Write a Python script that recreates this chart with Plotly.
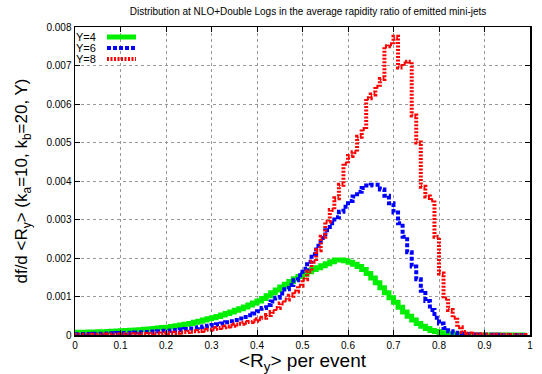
import plotly.graph_objects as go

# bin left edges of <R_y>
BIN_LEFT = [0.00, 0.01, 0.02, 0.03, 0.04, 0.05, 0.06, 0.07, 0.08, 0.09,
            0.10, 0.11, 0.12, 0.13, 0.14, 0.15, 0.16, 0.17, 0.18, 0.19,
            0.20, 0.21, 0.22, 0.23, 0.24, 0.25, 0.26, 0.27, 0.28, 0.29,
            0.30, 0.31, 0.32, 0.33, 0.34, 0.35, 0.36, 0.37, 0.38, 0.39,
            0.40, 0.41, 0.42, 0.43, 0.44, 0.45, 0.46, 0.47, 0.48, 0.49,
            0.50, 0.51, 0.52, 0.53, 0.54, 0.55, 0.56, 0.57, 0.58, 0.59,
            0.60, 0.61, 0.62, 0.63, 0.64, 0.65, 0.66, 0.67, 0.68, 0.69,
            0.70, 0.71, 0.72, 0.73, 0.74, 0.75, 0.76, 0.77, 0.78, 0.79,
            0.80, 0.81, 0.82, 0.83, 0.84, 0.85, 0.86, 0.87, 0.88, 0.89,
            0.90, 0.91, 0.92, 0.93, 0.94, 0.95, 0.96, 0.97, 0.98, 0.99]

Y4 = [0.000070, 0.000072, 0.000074, 0.000077, 0.000080, 0.000083, 0.000087, 0.000091, 0.000096, 0.000102,
      0.000108, 0.000115, 0.000122, 0.000130, 0.000139, 0.000148, 0.000158, 0.000169, 0.000181, 0.000194,
      0.000200, 0.000220, 0.000240, 0.000260, 0.000280, 0.000300, 0.000330, 0.000360, 0.000390, 0.000420,
      0.000450, 0.000480, 0.000520, 0.000560, 0.000600, 0.000640, 0.000680, 0.000730, 0.000780, 0.000830,
      0.000880, 0.000950, 0.001020, 0.001100, 0.001170, 0.001250, 0.001320, 0.001390, 0.001460, 0.001520,
      0.001580, 0.001640, 0.001700, 0.001750, 0.001800, 0.001850, 0.001900, 0.001950, 0.001950, 0.001930,
      0.001890, 0.001840, 0.001780, 0.001700, 0.001600, 0.001480, 0.001360, 0.001230, 0.001100, 0.000970,
      0.000850, 0.000720, 0.000600, 0.000490, 0.000390, 0.000300, 0.000230, 0.000170, 0.000120, 0.000090,
      0.000060, 0.000040, 0.000030, 0.000020, 0.000012, 0.000008, 0.000005, 0.000003, 0.000002, 0.000001,
      0.000001, 0.000001, 0.000000, 0.000000, 0.000000, 0.000000, 0.000000, 0.000000, 0.000000, 0.000000]

Y6 = [0.000020, 0.000020, 0.000025, 0.000025, 0.000030, 0.000030, 0.000035, 0.000040, 0.000045, 0.000050,
      0.000050, 0.000055, 0.000060, 0.000065, 0.000070, 0.000075, 0.000080, 0.000090, 0.000100, 0.000110,
      0.000110, 0.000120, 0.000130, 0.000140, 0.000155, 0.000170, 0.000180, 0.000200, 0.000220, 0.000240,
      0.000260, 0.000280, 0.000300, 0.000330, 0.000360, 0.000390, 0.000430, 0.000470, 0.000510, 0.000560,
      0.000620, 0.000700, 0.000780, 0.000870, 0.000970, 0.001080, 0.001190, 0.001300, 0.001420, 0.001550,
      0.001720, 0.001900, 0.002100, 0.002320, 0.002520, 0.002720, 0.002900, 0.003060, 0.003200, 0.003330,
      0.003480, 0.003600, 0.003720, 0.003820, 0.003880, 0.003900, 0.003900, 0.003780, 0.003620, 0.003420,
      0.003180, 0.002900, 0.002550, 0.002150, 0.001780, 0.001450, 0.001150, 0.000880, 0.000650, 0.000450,
      0.000300, 0.000180, 0.000100, 0.000060, 0.000040, 0.000030, 0.000020, 0.000015, 0.000010, 0.000008,
      0.000006, 0.000005, 0.000004, 0.000003, 0.000003, 0.000002, 0.000002, 0.000002, 0.000001, 0.000001]

Y8 = [0.000005, 0.000005, 0.000006, 0.000007, 0.000008, 0.000009, 0.000010, 0.000011, 0.000012, 0.000014,
      0.000015, 0.000017, 0.000019, 0.000021, 0.000023, 0.000026, 0.000029, 0.000033, 0.000037, 0.000042,
      0.000047, 0.000053, 0.000060, 0.000067, 0.000075, 0.000085, 0.000095, 0.000107, 0.000120, 0.000135,
      0.000160, 0.000180, 0.000200, 0.000220, 0.000240, 0.000270, 0.000290, 0.000320, 0.000340, 0.000370,
      0.000410, 0.000450, 0.000520, 0.000600, 0.000700, 0.000820, 0.000920, 0.001020, 0.001130, 0.001280,
      0.001450, 0.001650, 0.001900, 0.002200, 0.002550, 0.002950, 0.003250, 0.003550, 0.003900, 0.004450,
      0.004650, 0.004750, 0.005150, 0.005350, 0.006150, 0.006250, 0.006450, 0.006650, 0.007500, 0.007550,
      0.007750, 0.006950, 0.007050, 0.007100, 0.005700, 0.005000, 0.003850, 0.003600, 0.003500, 0.002550,
      0.001600, 0.000950, 0.000650, 0.000450, 0.000200, 0.000080, 0.000040, 0.000030, 0.000020, 0.000015,
      0.000010, 0.000008, 0.000006, 0.000005, 0.000004, 0.000003, 0.000003, 0.000002, 0.000002, 0.000001]

SERIES_NAMES = ["Y=4", "Y=6", "Y=8"]
COLORS = ["#00ee00", "#0000ff", "#ff0000"]
WIDTHS = [5, 4, 4]
DASHES = ["solid", "4px,2px", "2px,1.5px"]

X_TICKS = [0, 0.1, 0.2, 0.3, 0.4, 0.5, 0.6, 0.7, 0.8, 0.9, 1.0]
X_TICKTEXT = ["0", "0.1", "0.2", "0.3", "0.4", "0.5", "0.6", "0.7", "0.8", "0.9", "1"]
Y_TICKS = [0, 0.001, 0.002, 0.003, 0.004, 0.005, 0.006, 0.007, 0.008]
Y_TICKTEXT = ["0", "0.001", "0.002", "0.003", "0.004", "0.005", "0.006", "0.007", "0.008"]

FONT = "Liberation Sans, Arial, sans-serif"

fig = go.Figure()
for name, ys, c, w, d in zip(SERIES_NAMES, [Y4, Y6, Y8], COLORS, WIDTHS, DASHES):
    fig.add_trace(go.Scatter(x=BIN_LEFT, y=ys, mode="lines", name=name,
                             line=dict(color=c, width=w, dash=d, shape="hv"),
                             showlegend=False))

# legend (text left, key right, gnuplot style)
W, H = 542, 374
L, R, T, B = 75, 530, 27, 335
pw, ph = R - L, B - T
def px(x):
    return (x - L) / pw
def py(y):
    return (B - y) / ph

for i, (name, c, w, d) in enumerate(zip(SERIES_NAMES, COLORS, WIDTHS, DASHES)):
    yy = 37 + i * 11
    fig.add_annotation(xref="paper", yref="paper", x=px(98), y=py(yy), text=name,
                       showarrow=False, xanchor="right", yanchor="middle",
                       font=dict(family=FONT, size=11, color="black"))
    fig.add_shape(type="line", xref="paper", yref="paper",
                  x0=px(107), x1=px(136), y0=py(yy), y1=py(yy),
                  line=dict(color=c, width=w, dash=d))

axis_common = dict(showline=True, linecolor="black", linewidth=1.5, mirror="ticks",
                   ticks="inside", ticklen=5, tickcolor="black", tickwidth=1,
                   showgrid=True, gridcolor="#999999", griddash="dot", gridwidth=1,
                   zeroline=False, automargin=False,
                   tickfont=dict(family=FONT, size=10, color="black"))

fig.update_xaxes(range=[0, 1], tickvals=X_TICKS, ticktext=X_TICKTEXT,
                 title=dict(text="&lt;R<sub>y</sub>&gt; per event", standoff=2,
                            font=dict(family=FONT, size=19, color="black")),
                 **axis_common)
fig.update_yaxes(range=[0, 0.008], tickvals=Y_TICKS, ticktext=Y_TICKTEXT,
                 title=dict(text="df/d &lt;R<sub>y</sub>&gt; (k<sub>a</sub>=10, k<sub>b</sub>=20, Y)",
                            standoff=14, font=dict(family=FONT, size=17, color="black")),
                 **axis_common)

fig.update_layout(
    width=W, height=H,
    margin=dict(l=L, r=W - R, t=T, b=H - B, pad=0),
    paper_bgcolor="white", plot_bgcolor="white",
    title=dict(text="Distribution at NLO+Double Logs in the average rapidity ratio of emitted mini-jets",
               x=308 / W, xanchor="center", y=1 - 11 / H, yanchor="middle", xref="container", yref="container",
               font=dict(family=FONT, size=10, color="black")),
    showlegend=False,
)

fig.write_html("out.html", config={"displayModeBar": False, "staticPlot": True},
               post_script="document.body.style.margin='0';document.body.style.padding='0';document.body.style.overflow='hidden';")
